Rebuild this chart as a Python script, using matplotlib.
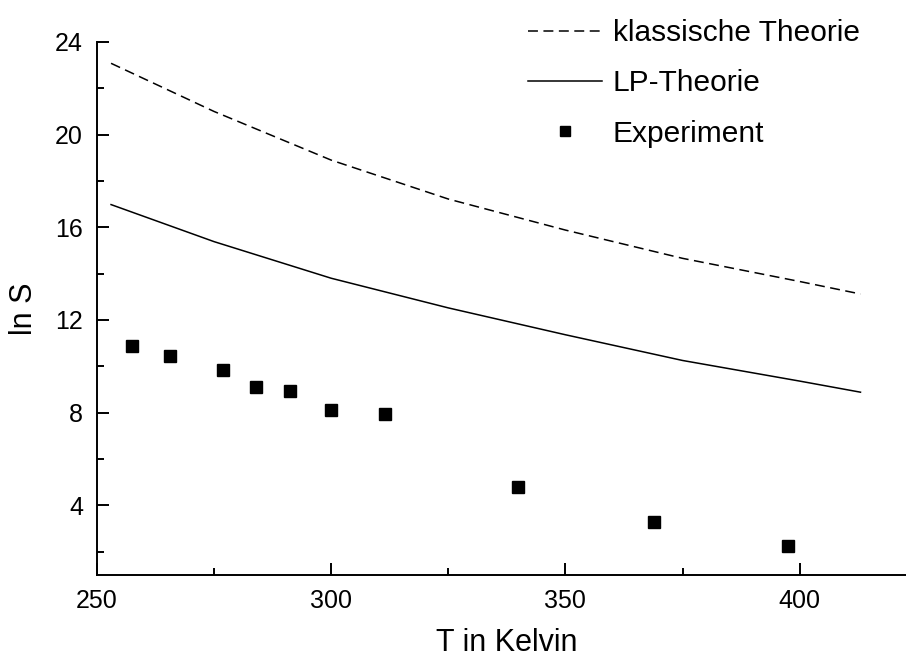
import numpy as np
import matplotlib
matplotlib.use("Agg")
import matplotlib.pyplot as plt
from matplotlib.ticker import MultipleLocator

plt.rcParams['font.family'] = ['Liberation Sans', 'DejaVu Sans']

# theory curves
T_theory = [253, 275, 300, 325, 350, 375, 400, 413]
lnS_klassisch = [23.08, 21.00, 18.90, 17.22, 15.88, 14.66, 13.66, 13.12]
lnS_lp = [16.98, 15.38, 13.80, 12.52, 11.36, 10.25, 9.36, 8.88]

# experimental points
T_exp = [257.4, 265.6, 276.8, 283.9, 291.1, 300.0, 311.5, 339.9, 368.9, 397.5]
lnS_exp = [10.89, 10.43, 9.82, 9.12, 8.92, 8.11, 7.95, 4.79, 3.26, 2.24]

fig = plt.figure(figsize=(9.06, 6.57), dpi=100)
# axes runs past the right edge, like in the original (cropped at 425)
ax = fig.add_axes([97/906, 82.3/657, 819.7/906, 532.7/657])

ax.plot(T_theory, lnS_klassisch, color='black', lw=1.1, linestyle=(0, (6.5, 3.6)),
        label='klassische Theorie')
ax.plot(T_theory, lnS_lp, color='black', lw=1.1, label='LP-Theorie')
ax.plot(T_exp, lnS_exp, 's', color='black', ms=8.6, label='Experiment')

ax.set_xlim(250, 425)
ax.set_ylim(1, 24)
ax.xaxis.set_major_locator(MultipleLocator(50))
ax.xaxis.set_minor_locator(MultipleLocator(25))
ax.yaxis.set_minor_locator(MultipleLocator(2))
ax.set_yticks([4, 8, 12, 16, 20, 24])

for s in ['top', 'right']:
    ax.spines[s].set_visible(False)
for s in ['left', 'bottom']:
    ax.spines[s].set_linewidth(1.4)

ax.tick_params(which='major', direction='in', length=8.6, width=1.4, labelsize=18, pad=10)
ax.tick_params(which='minor', direction='in', length=5, width=1.4)

ax.set_xlabel('T in Kelvin', fontsize=22, labelpad=11)
ax.set_ylabel('ln S', fontsize=22, labelpad=12)

ax.legend(loc='upper left', bbox_to_anchor=(528/906, 1 - 19/657), bbox_transform=fig.transFigure,
          frameon=False, fontsize=21.5, handlelength=2.47, handletextpad=0.37,
          labelspacing=0.75, borderpad=0, borderaxespad=0, numpoints=1, markerscale=0.8)

fig.savefig('out.png', dpi=100)
